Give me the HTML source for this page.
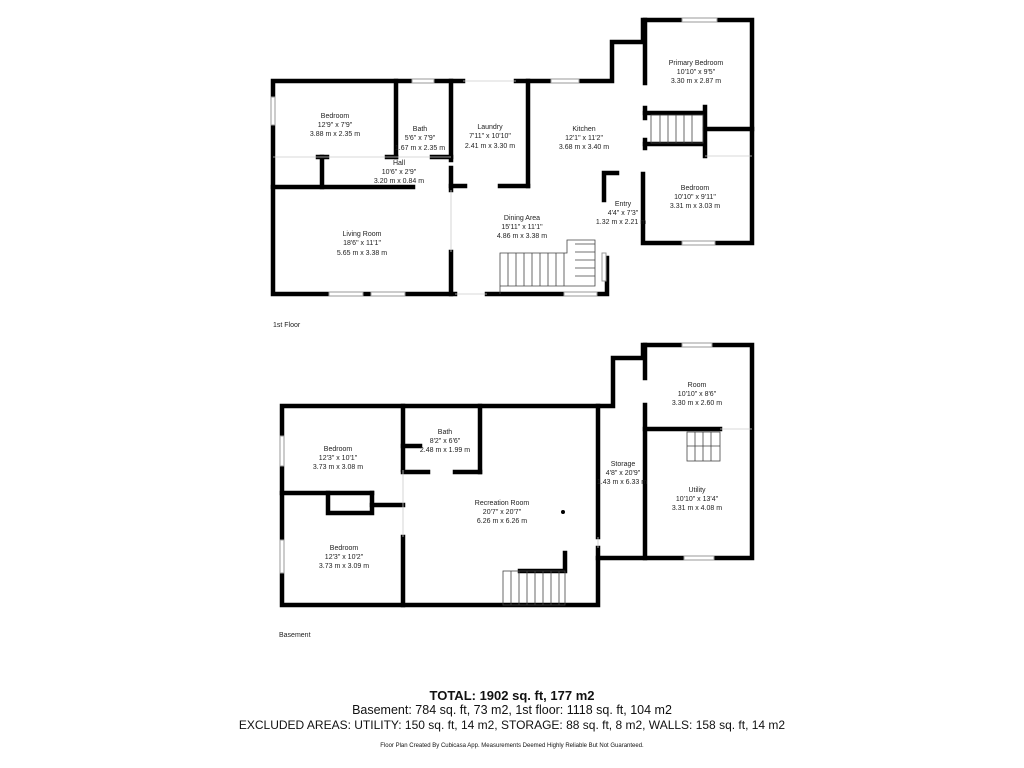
<!DOCTYPE html>
<html><head><meta charset="utf-8"><style>
body{margin:0;background:#fff;width:1024px;height:768px;overflow:hidden;font-family:"Liberation Sans",sans-serif}
svg{position:absolute;left:0;top:0}
.t{position:absolute;width:800px;left:112px;text-align:center;color:#111}
</style></head><body>
<svg width="1024" height="768" viewBox="0 0 1024 768" font-family="Liberation Sans, sans-serif">
<g stroke="#000" stroke-width="4.5" fill="none" stroke-linecap="square">
<polyline points="463,81 273,81 273,294 455,294"/>
<polyline points="487,294 607,294 607,258"/>
<polyline points="516,81 612,81 612,42 643,42 643,20 752,20 752,243 643,243 643,174"/>
<line x1="645" y1="20" x2="645" y2="83"/>
<line x1="645" y1="108" x2="645" y2="118"/>
<line x1="645" y1="140" x2="645" y2="148"/>
<line x1="396" y1="81" x2="396" y2="157"/>
<line x1="451" y1="81" x2="451" y2="160"/>
<line x1="451" y1="168" x2="451" y2="190"/>
<line x1="451" y1="252" x2="451" y2="294"/>
<line x1="528" y1="81" x2="528" y2="186"/>
<line x1="451" y1="186" x2="465" y2="186"/>
<line x1="500" y1="186" x2="528" y2="186"/>
<line x1="273" y1="187" x2="413" y2="187"/>
<line x1="318" y1="157" x2="327" y2="157"/>
<line x1="387" y1="157" x2="396" y2="157"/>
<line x1="432" y1="157" x2="451" y2="157"/>
<line x1="322" y1="157" x2="322" y2="187"/>
<line x1="645" y1="113" x2="703" y2="113"/>
<line x1="645" y1="144" x2="703" y2="144"/>
<line x1="705" y1="107" x2="705" y2="156"/>
<line x1="705" y1="129" x2="752" y2="129"/>
<polyline points="617,173 604,173 604,200"/>
<polyline points="613,406 282,406 282,605 598,605 598,558 752,558 752,345 643,345 643,358 613,358 613,406"/>
<line x1="645" y1="345" x2="645" y2="378"/>
<line x1="645" y1="405" x2="645" y2="558"/>
<line x1="598" y1="406" x2="598" y2="537"/>
<line x1="598" y1="548" x2="598" y2="558"/>
<line x1="403" y1="406" x2="403" y2="470"/>
<line x1="403" y1="537" x2="403" y2="605"/>
<line x1="480" y1="406" x2="480" y2="472"/>
<line x1="403" y1="472" x2="428" y2="472"/>
<line x1="455" y1="472" x2="480" y2="472"/>
<line x1="403" y1="446" x2="420" y2="446"/>
<line x1="282" y1="493" x2="372" y2="493"/>
<polyline points="328,493 328,513 372,513 372,493"/>
<line x1="372" y1="505" x2="403" y2="505"/>
<line x1="645" y1="429" x2="720" y2="429"/>
<polyline points="520,571 565,571 565,553"/>
</g>
<g fill="#fff" stroke="#999" stroke-width="1">
<rect x="412" y="79" width="22" height="4"/><rect x="551" y="79" width="28" height="4"/>
<rect x="682" y="18" width="35" height="4"/><rect x="682" y="241" width="33" height="4"/>
<rect x="271" y="97" width="4" height="28"/><rect x="329" y="292" width="34" height="4"/>
<rect x="371" y="292" width="34" height="4"/><rect x="564" y="292" width="33" height="4"/>
<rect x="602" y="253" width="4" height="28"/>
<rect x="682" y="343" width="30" height="4"/><rect x="684" y="556" width="30" height="4"/>
<rect x="280" y="436" width="4" height="30"/><rect x="280" y="540" width="4" height="33"/>
</g>
<g stroke="#444" stroke-width="0.8" fill="none">
<polyline points="500,294 500,253 567,253 567,240 595,240 595,286 500,286"/>
<path d="M508,253v33M516,253v33M524,253v33M532,253v33M540,253v33M548,253v33M556,253v33M564,253v33M575,244h20M575,252h20M575,260h20M575,268h20M575,276h20"/>
<rect x="651" y="115" width="52" height="28"/>
<path d="M660,115v28M668,115v28M676,115v28M684,115v28M692,115v28"/>
<rect x="503" y="571" width="62" height="34"/>
<path d="M511,571v34M519,571v34M527,571v34M535,571v34M543,571v34M551,571v34M559,571v34"/>
<rect x="687" y="432" width="33" height="29"/>
<path d="M695,432v29M703,432v29M711,432v29M687,446h33"/>
</g>
<g stroke="#ccc" stroke-width="0.8">
<line x1="273" y1="157" x2="451" y2="157"/><line x1="463" y1="81" x2="516" y2="81"/>
<line x1="455" y1="294" x2="487" y2="294"/><line x1="451" y1="190" x2="451" y2="252"/>
<line x1="598" y1="537" x2="598" y2="548"/><line x1="403" y1="470" x2="403" y2="537"/>
<line x1="705" y1="156" x2="752" y2="156"/><line x1="720" y1="429" x2="752" y2="429"/>
</g>
<circle cx="563" cy="512" r="2" fill="#000"/>
<g font-size="7" fill="#222" text-anchor="middle">
<text x="335" y="118">Bedroom</text><text x="335" y="127">12'9" x 7'9"</text><text x="335" y="136">3.88 m x 2.35 m</text>
<text x="420" y="131">Bath</text><text x="420" y="140">5'6" x 7'9"</text><text x="420" y="150">1.67 m x 2.35 m</text>
<text x="490" y="129">Laundry</text><text x="490" y="138">7'11" x 10'10"</text><text x="490" y="148">2.41 m x 3.30 m</text>
<text x="584" y="131">Kitchen</text><text x="584" y="140">12'1" x 11'2"</text><text x="584" y="149">3.68 m x 3.40 m</text>
<text x="399" y="165">Hall</text><text x="399" y="174">10'6" x 2'9"</text><text x="399" y="183">3.20 m x 0.84 m</text>
<text x="696" y="65">Primary Bedroom</text><text x="696" y="74">10'10" x 9'5"</text><text x="696" y="83">3.30 m x 2.87 m</text>
<text x="695" y="190">Bedroom</text><text x="695" y="199">10'10" x 9'11"</text><text x="695" y="208">3.31 m x 3.03 m</text>
<text x="623" y="206">Entry</text><text x="623" y="215">4'4" x 7'3"</text><text x="621" y="224">1.32 m x 2.21 m</text>
<text x="522" y="220">Dining Area</text><text x="522" y="229">15'11" x 11'1"</text><text x="522" y="238">4.86 m x 3.38 m</text>
<text x="362" y="236">Living Room</text><text x="362" y="245">18'6" x 11'1"</text><text x="362" y="255">5.65 m x 3.38 m</text>
<text x="338" y="451">Bedroom</text><text x="338" y="460">12'3" x 10'1"</text><text x="338" y="469">3.73 m x 3.08 m</text>
<text x="445" y="434">Bath</text><text x="445" y="443">8'2" x 6'6"</text><text x="445" y="452">2.48 m x 1.99 m</text>
<text x="502" y="505">Recreation Room</text><text x="502" y="514">20'7" x 20'7"</text><text x="502" y="523">6.26 m x 6.26 m</text>
<text x="623" y="466">Storage</text><text x="623" y="475">4'8" x 20'9"</text><text x="622" y="484">1.43 m x 6.33 m</text>
<text x="697" y="387">Room</text><text x="697" y="396">10'10" x 8'6"</text><text x="697" y="405">3.30 m x 2.60 m</text>
<text x="697" y="492">Utility</text><text x="697" y="501">10'10" x 13'4"</text><text x="697" y="510">3.31 m x 4.08 m</text>
<text x="344" y="550">Bedroom</text><text x="344" y="559">12'3" x 10'2"</text><text x="344" y="568">3.73 m x 3.09 m</text>
</g>
<g font-size="7" fill="#222">
<text x="273" y="327">1st Floor</text><text x="279" y="637">Basement</text>
</g>
</svg>
<div class="t" style="top:688px;font-size:13px;font-weight:bold">TOTAL: 1902 sq. ft, 177 m2</div>
<div class="t" style="top:703px;font-size:12.5px">Basement: 784 sq. ft, 73 m2, 1st floor: 1118 sq. ft, 104 m2</div>
<div class="t" style="top:718px;font-size:12px">EXCLUDED AREAS: UTILITY: 150 sq. ft, 14 m2, STORAGE: 88 sq. ft, 8 m2, WALLS: 158 sq. ft, 14 m2</div>
<div class="t" style="top:743px;font-size:6px">Floor Plan Created By Cubicasa App. Measurements Deemed Highly Reliable But Not Guaranteed.</div>
</body></html>
